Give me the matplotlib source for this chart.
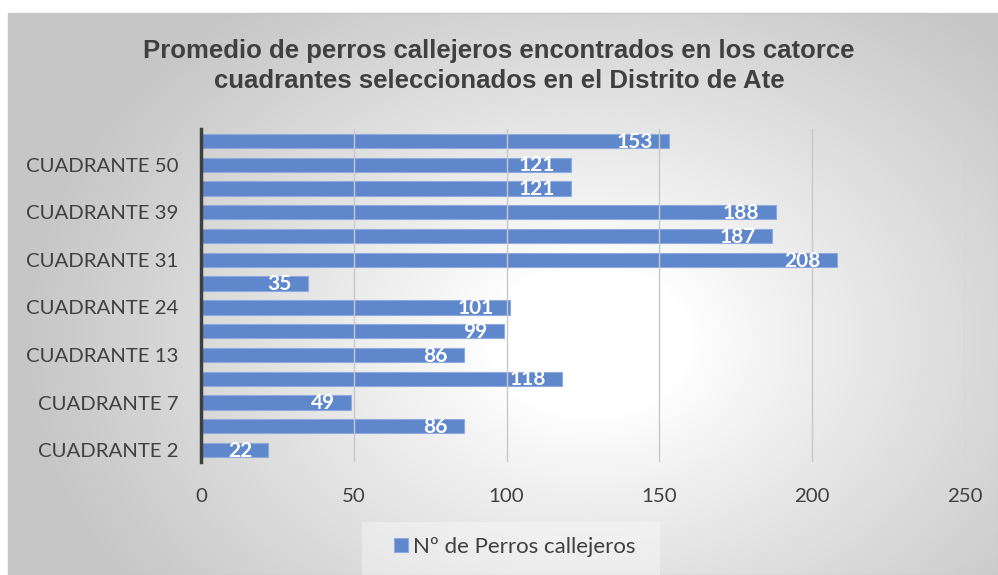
import numpy as np
import matplotlib
matplotlib.use("Agg")
import matplotlib.pyplot as plt
from matplotlib.patches import Rectangle

# Data (bottom to top)
cuadrantes = ["CUADRANTE 2", "CUADRANTE 5", "CUADRANTE 7", "CUADRANTE 10",
              "CUADRANTE 13", "CUADRANTE 18", "CUADRANTE 24", "CUADRANTE 27",
              "CUADRANTE 31", "CUADRANTE 35", "CUADRANTE 39", "CUADRANTE 44",
              "CUADRANTE 50", "CUADRANTE 53"]
perros = [22, 86, 49, 118, 86, 99, 101, 35, 208, 187, 188, 121, 121, 153]
x_ticks = [0, 50, 100, 150, 200, 250]

titulo = ("Promedio de perros callejeros encontrados en los catorce\n"
          "cuadrantes seleccionados en el Distrito de Ate")
serie = "Nº de Perros callejeros"

W, H = 998, 575
fig = plt.figure(figsize=(W / 100, H / 100), dpi=100)
fig.patch.set_facecolor("white")

# Radial gradient background of the chart area
bg = fig.add_axes([0, 0, 1, 1])
bg.set_xlim(0, W)
bg.set_ylim(H, 0)
bg.axis("off")
x0, y0 = 8, 13
xx, yy = np.meshgrid(np.arange(x0, W), np.arange(y0, H))
cx, cy = 590, 340
r = np.sqrt(((xx - cx) / 560.0) ** 2 + ((yy - cy) / 420.0) ** 2)
t = np.clip((r - 0.18) / 0.82, 0, 1) ** 0.9
val = 1.0 - t * (1.0 - 0.78)
img = np.dstack([val, val, val])
bg.imshow(img, extent=[x0, W, H, y0], aspect="auto", interpolation="bilinear")
bg.add_patch(Rectangle((x0, y0), W - x0, H - y0, fill=False,
                       edgecolor="#c6c6c6", lw=1.0))

# Legend backdrop
bg.add_patch(Rectangle((362, 522), 298, 53, facecolor="white", alpha=0.35,
                       edgecolor="none"))

ax = fig.add_axes([201 / W, 1 - 462 / H, 764 / W, 333 / H])
ax.patch.set_alpha(0)

y = np.arange(len(perros))
bars = ax.barh(y, perros, height=0.6, color="#5f87cc",
               edgecolor="#8faadc", linewidth=0.8, zorder=2)

ax.set_xlim(0, 250)
ax.set_ylim(-0.5, len(perros) - 0.5)
ax.set_xticks(x_ticks)
ax.set_xticklabels([str(v) for v in x_ticks])
ax.set_yticks(y)
ax.set_yticklabels([c if i % 2 == 0 else "" for i, c in enumerate(cuadrantes)])
ax.grid(axis="x", color="#c8c8c8", lw=1.0, zorder=3)
ax.set_axisbelow(False)
for s in ["top", "right", "bottom"]:
    ax.spines[s].set_visible(False)
ax.spines["left"].set_color("#3f3f3f")
ax.spines["left"].set_linewidth(2.5)
ax.spines["left"].set_zorder(4)
ax.tick_params(axis="both", length=0, labelsize=14.7, labelcolor="#404040")
ax.tick_params(axis="x", pad=19)
ax.tick_params(axis="y", pad=16)
for lbl in ax.get_xticklabels() + ax.get_yticklabels():
    lbl.set_fontfamily("Lato")

for v, yi in zip(perros, y):
    ax.annotate(str(v), xy=(v, yi), xytext=(-11.5, -0.5), textcoords="offset points",
                ha="right", va="center", color="white", fontsize=15,
                fontweight="bold", family="Lato", zorder=5)

fig.text(0.5, 1 - 66 / H, titulo, ha="center", va="center", fontsize=18.5,
         fontweight="bold", color="#404040", family="Liberation Sans",
         linespacing=1.3)

leg = fig.legend([bars], [serie], loc="center", bbox_to_anchor=(515 / W, 1 - 547 / H),
                 frameon=False, handlelength=0.6, handleheight=0.6,
                 handletextpad=0.25, prop={"family": "Lato", "size": 16})
for txt in leg.get_texts():
    txt.set_color("#404040")

fig.savefig("out.png", dpi=100)
